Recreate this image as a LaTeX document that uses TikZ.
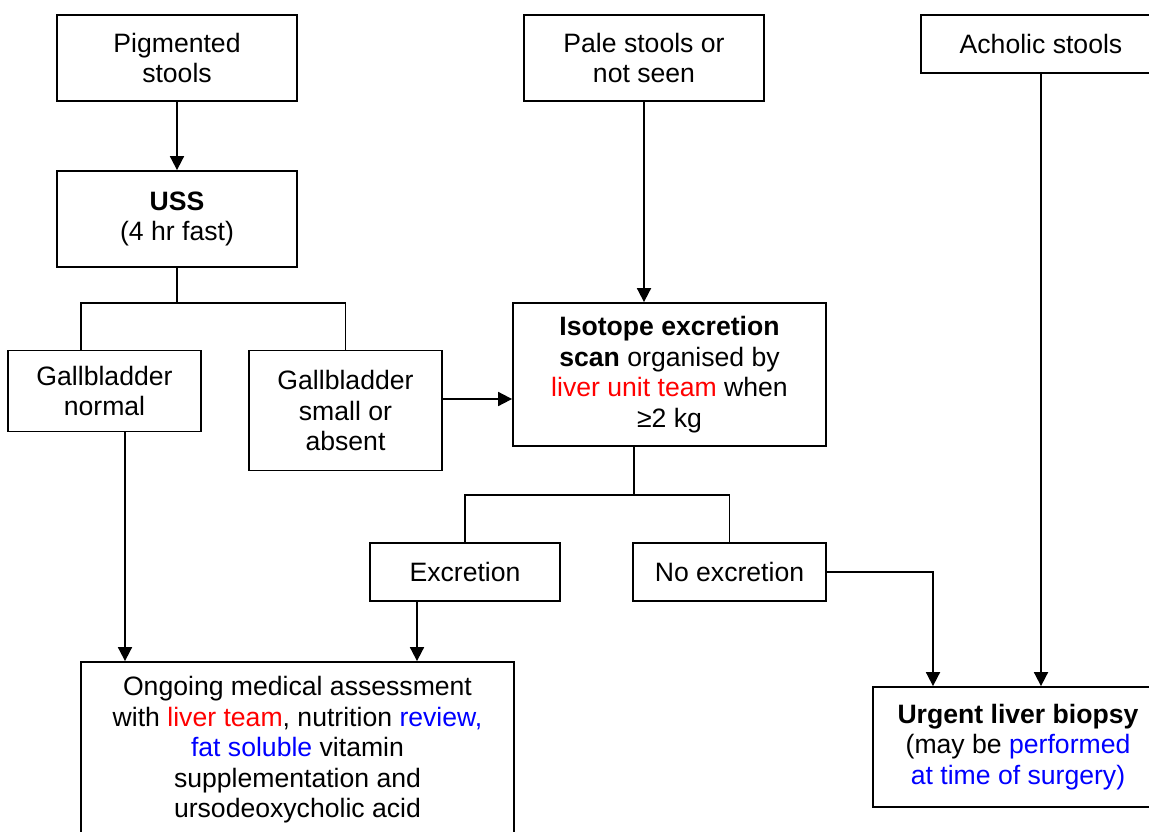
\documentclass[tikz,border=0pt]{standalone}
\usepackage{fontspec}
\setmainfont{Liberation Sans}
\usetikzlibrary{arrows.meta,calc}
\tikzset{
  box/.style={draw, line width=1.8pt, align=center, inner sep=0pt,
    font=\fontsize{26.6}{30.5}\selectfont},
  ln/.style={line width=1.8pt},
  arr/.style={ln, -{Triangle[length=14pt,width=14pt]}}
}
\begin{document}
\begin{tikzpicture}[x=1pt,y=-1pt]
\path[use as bounding box] (0,0) rectangle (1149,832);
\clip (0,0) rectangle (1149,832);
\fill[white] (0,0) rectangle (1149,832);
% boxes
\node[box, minimum width=240pt, minimum height=86pt] (pig) at (177,58) {Pigmented\\stools};
\node[box, minimum width=240pt, minimum height=96pt] (uss) at (177,219) {\textbf{USS}\\(4 hr fast)};
\node[box, minimum width=240pt, minimum height=86pt] (pale) at (644,58) {Pale stools or\\not seen};
\node[box, minimum width=240pt, minimum height=58pt] (ach) at (1041,44) {Acholic stools};
\node[box, minimum width=313pt, minimum height=143pt] (iso) at (669.5,374.5)
  {\textbf{Isotope excretion}\\\textbf{scan} organised by\\\textcolor{red}{liver unit team} when\\≥2 kg};
\node[box, minimum width=193pt, minimum height=81pt] (gbn) at (104.5,391) {Gallbladder\\normal};
\node[box, minimum width=193pt, minimum height=120pt] (gbs) at (345.5,410.5) {Gallbladder\\small or\\absent};
\node[box, minimum width=190pt, minimum height=58pt] (exc) at (465,572) {Excretion};
\node[box, minimum width=193pt, minimum height=58pt] (nox) at (729.5,572) {No excretion};
\node[box, minimum width=433pt, minimum height=176pt] (ong) at (297.5,750)
  {Ongoing medical assessment\\with \textcolor{red}{liver team}, nutrition \textcolor{blue}{review,}\\\textcolor{blue}{fat soluble} vitamin\\supplementation and\\ursodeoxycholic acid};
\node[box, minimum width=290pt, minimum height=120pt] (bio) at (1018,747)
  {\textbf{Urgent liver biopsy}\\(may be \textcolor{blue}{performed}\\\textcolor{blue}{at time of surgery)}};
% connectors
\draw[arr] (pig) -- (uss);
\coordinate (j1) at ($(uss.south)+(0,35)$);
\draw[ln] (uss.south) -- (j1);
\path ([xshift=-23.5pt]gbn.north) coordinate (gbnin);
\draw[ln] (gbnin) |- (gbs.north |- j1) -- (gbs.north);
\path ([xshift=20.5pt]gbn.south) coordinate (gbnout);
\draw[arr] (gbnout) -- (gbnout |- ong.north);
\path ([yshift=11.5pt]gbs.east) coordinate (gbsout);
\draw[arr] (gbsout) -- (gbsout -| iso.west);
\draw[arr] (pale) -- (pale |- iso.north);
\path ([xshift=-35.5pt]iso.south) coordinate (isoout);
\coordinate (j2) at ($(isoout)+(0,48)$);
\draw[ln] (isoout) -- (j2);
\draw[ln] (exc.north) |- (nox.north |- j2) -- (nox.north);
\path ([xshift=-48pt]exc.south) coordinate (excout);
\draw[arr] (excout) -- (excout |- ong.north);
\path ([xshift=-85pt]bio.north) coordinate (bioin);
\draw[arr] (nox.east) -| (bioin);
\draw[arr] (ach) -- (ach |- bio.north);
\end{tikzpicture}
\end{document}
